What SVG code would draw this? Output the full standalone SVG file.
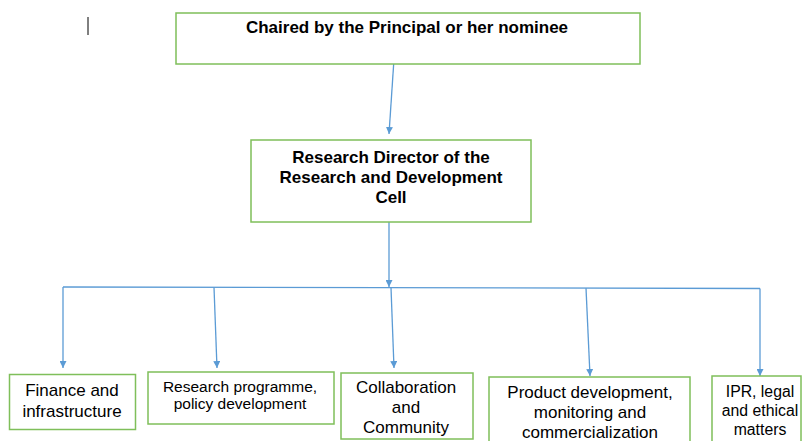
<svg xmlns="http://www.w3.org/2000/svg" width="802" height="441" viewBox="0 0 802 441">
<style>
.box{fill:#fff;stroke:#7fbf5a;stroke-width:1.5}
.t{font-family:"Liberation Sans",Arial,sans-serif;fill:#000;text-anchor:middle}
.b{font-weight:bold;font-size:17px}
.r{font-size:17px}
.c{fill:none;stroke:#5b9bd5;stroke-width:1.3}
</style>
<defs>
<marker id="ah" viewBox="0 0 10 10" refX="10" refY="5" markerWidth="7" markerHeight="7" markerUnits="userSpaceOnUse" orient="auto">
<path d="M0,0 L10,5 L0,10 Z" fill="#5b9bd5"/>
</marker>
</defs>
<rect width="802" height="441" fill="#fff"/>
<line x1="88" y1="17" x2="88" y2="35" stroke="#000" stroke-width="1"/>
<g id="connectors">
<line class="c" x1="394" y1="59" x2="389" y2="134" marker-end="url(#ah)"/>
<line class="c" x1="389" y1="222" x2="389" y2="287" marker-end="url(#ah)"/>
<line class="c" x1="63" y1="287" x2="760" y2="288.5"/>
<line class="c" x1="63" y1="287" x2="63" y2="368" marker-end="url(#ah)"/>
<line class="c" x1="214" y1="287.3" x2="217" y2="368" marker-end="url(#ah)"/>
<line class="c" x1="391" y1="287.7" x2="394" y2="368" marker-end="url(#ah)"/>
<line class="c" x1="586" y1="288.1" x2="590" y2="376" marker-end="url(#ah)"/>
<line class="c" x1="760" y1="288.5" x2="760" y2="376" marker-end="url(#ah)"/>
</g>
<g id="chair">
<rect class="box" x="176" y="13" width="464" height="51"/>
<text class="t b" x="407" y="33">Chaired by the Principal or her nominee</text>
</g>
<g id="director">
<rect class="box" x="251" y="140" width="280" height="82"/>
<text class="t b" x="391" y="163">Research Director of the</text>
<text class="t b" x="391" y="183">Research and Development</text>
<text class="t b" x="391" y="203">Cell</text>
</g>
<g id="finance">
<rect class="box" x="9.5" y="374.5" width="126" height="55"/>
<text class="t r" x="72" y="396">Finance and</text>
<text class="t r" x="72" y="416.5">infrastructure</text>
</g>
<g id="research">
<rect class="box" x="148" y="372" width="186" height="52"/>
<text class="t" style="font-size:15.5px" x="240" y="392">Research programme,</text>
<text class="t" style="font-size:15.5px" x="240" y="409">policy development</text>
</g>
<g id="collaboration">
<rect class="box" x="341" y="373" width="132" height="66"/>
<text class="t r" x="406" y="393">Collaboration</text>
<text class="t r" x="406" y="413">and</text>
<text class="t r" x="406" y="433">Community</text>
</g>
<g id="product">
<rect class="box" x="489" y="377" width="201" height="70"/>
<text class="t r" x="590" y="398">Product development,</text>
<text class="t r" x="590" y="418">monitoring and</text>
<text class="t r" x="590" y="438">commercialization</text>
</g>
<g id="ipr">
<rect class="box" x="712" y="376" width="89" height="70"/>
<text class="t" style="font-size:15.8px" x="760" y="396.5">IPR, legal</text>
<text class="t" style="font-size:15.8px" x="760" y="416">and ethical</text>
<text class="t" style="font-size:15.8px" x="760" y="434.5">matters</text>
</g>
</svg>
